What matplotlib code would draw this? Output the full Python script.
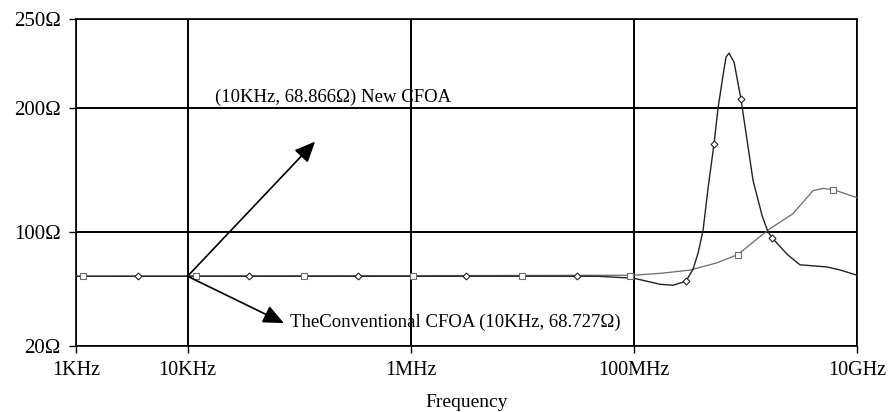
import numpy as np
import matplotlib
matplotlib.use('Agg')
import matplotlib.pyplot as plt

plt.rcParams['font.family'] = ['Liberation Serif', 'DejaVu Serif']

# tick labels
x_ticks = [1e3, 1e4, 1e6, 1e8, 1e10]
x_labels = ['1KHz', '10KHz', '1MHz', '100MHz', '10GHz']
y_ticks = [20, 100, 200, 250]
y_labels = ['20Ω', '100Ω', '200Ω', '250Ω']
# where the y ticks sit on the (uneven) axis, in relative units
y_tick_pos = [0, 114, 237, 326]

# New CFOA (dark, diamonds)
new_f = [1e3, 4.68e7, 1.0e8, 1.71e8, 2.24e8, 2.93e8, 3.39e8, 3.76e8, 4.17e8, 4.62e8,
         5.22e8, 5.68e8, 6.30e8, 6.70e8, 7.13e8, 7.91e8, 9.12e8, 1.17e9, 1.41e9,
         1.59e9, 1.73e9, 2.36e9, 3.08e9, 5.38e9, 7.05e9, 1e10]
new_z = [68.8, 68.8, 67.4, 63.2, 62.5, 65.3, 73.7, 84.9, 101, 135,
         170.7, 200, 218.5, 228.7, 230.9, 225.8, 205.1, 141.5, 113,
         100, 95.8, 84.2, 76.8, 75.3, 73.2, 69.5]
new_mark_f = [3.6e3, 3.55e4, 3.39e5, 3.16e6, 3.09e7, 2.93e8, 5.22e8, 9.12e8, 1.73e9]
new_mark_z = [68.8, 68.8, 68.8, 68.8, 68.8, 65.3, 170.7, 205.1, 95.8]

# Conventional CFOA (grey, squares)
conv_f = [1e3, 1e8, 1.82e8, 3.18e8, 5.56e8, 8.57e8, 1.27e9, 1.66e9, 2.67e9,
          4.04e9, 4.96e9, 6.10e9, 1e10]
conv_z = [68.8, 69.5, 71.0, 73.1, 78.2, 84.0, 94.9, 102.4, 114.6,
          133.3, 135, 134.1, 127.6]
conv_mark_f = [1.16e3, 1.19e4, 1.10e5, 1.05e6, 1.0e7, 9.3e7, 8.57e8, 6.10e9]
conv_mark_z = [68.8, 68.8, 68.8, 68.8, 68.8, 69.3, 84.0, 134.1]

# annotation arrows: both start at (10KHz, ~68.8 ohm)
arrow_start = (1e4, 68.8)
arrow_new_tip = (1.39e5, 173)
arrow_conv_tip = (7.3e4, 36)


def fwd(v):
    return np.interp(v, y_ticks, y_tick_pos)


def inv(p):
    return np.interp(p, y_tick_pos, y_ticks)


fig = plt.figure(figsize=(8.93, 4.12), dpi=100)
ax = fig.add_axes([0.0851, 0.1602, 0.8746, 0.7937])

ax.plot(conv_f, conv_z, color='#6a6a6a', lw=0.9, zorder=3)
ax.plot(conv_mark_f, conv_mark_z, ls='none', marker='s', ms=4.5, mfc='white',
        mec='#6a6a6a', mew=0.8, zorder=4)
ax.plot(new_f, new_z, color='#222222', lw=1.0, zorder=3)
ax.plot(new_mark_f, new_mark_z, ls='none', marker='D', ms=3.5, mfc='white',
        mec='#222222', mew=0.8, zorder=4)

ax.set_xscale('log')
ax.set_yscale('function', functions=(fwd, inv))
ax.set_xlim(1e3, 1e10)
ax.set_ylim(20, 250)

ax.set_xticks(x_ticks)
ax.set_xticklabels(x_labels, fontsize=14.5)
ax.xaxis.set_minor_locator(plt.NullLocator())
ax.set_yticks(y_ticks)
ax.set_yticklabels(y_labels, fontsize=15)
ax.yaxis.set_minor_locator(plt.NullLocator())
ax.tick_params(direction='out', length=5, width=1, pad=6)
ax.tick_params(axis='x', pad=6)

ax.grid(True, color='black', lw=1.4)
for s in ax.spines.values():
    s.set_linewidth(1.2)

ax.set_xlabel('Frequency', fontsize=14, labelpad=10)

arrow_kw = dict(arrowstyle='-|>,head_length=0.9,head_width=0.4', color='black',
                lw=1.2, shrinkA=0, shrinkB=0, mutation_scale=14)
ax.annotate('', xy=arrow_new_tip, xytext=arrow_start, arrowprops=arrow_kw, zorder=5)
ax.annotate('', xy=arrow_conv_tip, xytext=arrow_start, arrowprops=arrow_kw, zorder=5)

ax.text(0.178, 0.761, '(10KHz, 68.866Ω) New CFOA', transform=ax.transAxes,
        fontsize=13.5, va='center', ha='left', zorder=2)
ax.text(0.274, 0.073, 'TheConventional CFOA (10KHz, 68.727Ω)', transform=ax.transAxes,
        fontsize=13.5, va='center', ha='left', zorder=2)

fig.savefig('out.png', dpi=100)
